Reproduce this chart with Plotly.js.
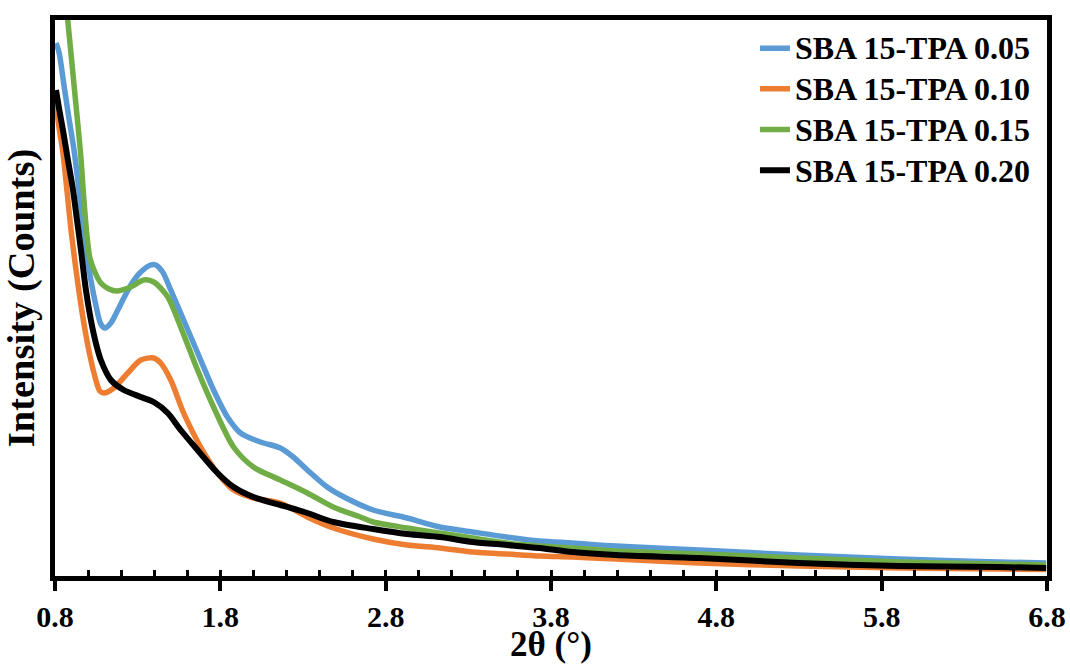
<!DOCTYPE html>
<html>
<head>
<meta charset="utf-8">
<script src="https://cdn.plot.ly/plotly-3.0.1.min.js"></script>
<style>html,body{margin:0;padding:0;background:#fff}#chart{width:1070px;height:664px}</style>
</head>
<body>
<div id="chart"></div>
<script>
// ---- Data (2θ in degrees, intensity in arbitrary counts) ----
const seriesNames = ["SBA 15-TPA 0.05", "SBA 15-TPA 0.10", "SBA 15-TPA 0.15", "SBA 15-TPA 0.20"];
const seriesColors = ["#5B9BD5", "#ED7D31", "#70AD47", "#000000"];

const theta005 = [0.806,0.824,0.854,0.884,0.915,0.945,0.969,0.993,1.017,1.047,1.077,1.102,1.138,1.180,1.216,1.270,1.319,1.379,1.409,1.451,1.500,1.578,1.681,1.759,1.843,1.922,2.042,2.163,2.241,2.326,2.446,2.525,2.724,2.929,3.128,3.327,3.532,3.731,3.930,4.193,4.696,5.299,5.903,6.506,6.795];
const counts005 = [5350,5260,4930,4600,4280,3880,3530,3230,2980,2730,2540,2500,2550,2680,2800,2960,3060,3130,3130,3060,2880,2580,2180,1880,1610,1450,1360,1300,1210,1080,910,830,680,600,510,460,410,370,350,320,280,230,190,160,150];

const theta010 = [0.800,0.824,0.848,0.872,0.897,0.927,0.957,0.987,1.017,1.047,1.071,1.096,1.156,1.240,1.319,1.397,1.439,1.500,1.578,1.681,1.783,1.880,2.000,2.163,2.326,2.483,2.724,2.929,3.128,3.327,3.532,3.731,3.930,4.193,4.696,5.299,5.903,6.506,6.795];
const counts010 = [4800,4510,4250,3880,3480,3080,2730,2430,2180,1980,1870,1850,1900,2050,2180,2200,2150,1980,1650,1310,1050,880,800,750,610,500,390,330,300,260,240,220,210,190,150,120,100,90,85];

const theta015 = [0.800,0.836,0.877,0.915,0.954,0.975,0.993,1.011,1.041,1.077,1.126,1.174,1.258,1.337,1.397,1.482,1.560,1.662,1.759,1.880,2.000,2.163,2.326,2.483,2.646,2.724,2.929,3.128,3.327,3.532,3.731,3.930,4.193,4.696,5.299,5.903,6.506,6.795];
const counts015 = [6880,6230,5580,4930,4260,3780,3430,3200,3060,2950,2890,2870,2910,2980,2960,2810,2510,2080,1710,1310,1110,980,850,710,610,560,500,450,400,350,320,300,270,240,200,160,140,130];

const theta020 = [0.806,0.824,0.848,0.878,0.909,0.933,0.957,0.987,1.017,1.047,1.077,1.138,1.216,1.319,1.397,1.482,1.560,1.662,1.783,1.880,2.000,2.163,2.326,2.483,2.724,2.929,3.128,3.327,3.532,3.731,3.930,4.193,4.696,5.299,5.903,6.506,6.795];
const counts020 = [4880,4700,4480,4180,3880,3580,3280,2880,2580,2350,2180,1980,1880,1810,1760,1650,1480,1280,1050,910,810,730,650,560,490,440,410,360,330,300,260,230,200,150,120,110,100];

const xTickVals = [0.8, 1.8, 2.8, 3.8, 4.8, 5.8, 6.8];
const xTickText = ["0.8", "1.8", "2.8", "3.8", "4.8", "5.8", "6.8"];
const xRange = [0.8, 6.8];
const yRange = [20, 5580];

const xs = [theta005, theta010, theta015, theta020];
const ys = [counts005, counts010, counts015, counts020];

const FONT = '"Liberation Serif", "Times New Roman", Times, serif';

const traces = seriesNames.map((name, i) => ({
  type: 'scatter',
  mode: 'lines',
  name: '<span style="font-size:32px">' + name + '</span>',
  x: xs[i],
  y: ys[i],
  line: {color: seriesColors[i], width: i === 3 ? 6 : 5.5, shape: 'spline', smoothing: 0.8},
  hoverinfo: 'skip'
}));
// empty trace that only carries the inner tick axis
traces.push({type: 'scatter', mode: 'lines', x: [], y: [], xaxis: 'x2', yaxis: 'y', showlegend: false, hoverinfo: 'skip'});

const layout = {
  width: 1070,
  height: 664,
  margin: {l: 55, r: 23, t: 20, b: 88, pad: 0},
  paper_bgcolor: '#ffffff',
  plot_bgcolor: '#ffffff',
  showlegend: true,
  legend: {
    x: 0.7056, y: 0.995, xanchor: 'left', yanchor: 'top',
    bgcolor: 'rgba(0,0,0,0)', borderwidth: 0,
    font: {family: FONT, size: 29, color: '#000', weight: 'bold'},
    itemwidth: 30, tracegroupgap: 0
  },
  xaxis: {
    range: xRange,
    tickmode: 'array', tickvals: xTickVals, ticktext: xTickText,
    ticks: 'outside', ticklen: 10, tickwidth: 4, tickcolor: '#000',
    showline: true, linewidth: 5, linecolor: '#000', mirror: true,
    showgrid: false, zeroline: false,
    tickfont: {family: FONT, size: 30, color: '#000', weight: 'bold'},
    title: {text: '2θ (°)', font: {family: FONT, size: 35, color: '#000', weight: 'bold'}, standoff: 3}
  },
  xaxis2: {
    overlaying: 'x', matches: 'x', anchor: 'y', side: 'bottom',
    range: xRange,
    tickmode: 'linear', tick0: 0.8, dtick: 0.2,
    ticks: 'inside', ticklen: 6, tickwidth: 3, tickcolor: '#000',
    showticklabels: false, showline: false, showgrid: false, zeroline: false
  },
  yaxis: {
    range: yRange,
    showticklabels: false, ticks: '',
    showline: true, linewidth: 5, linecolor: '#000', mirror: true,
    showgrid: false, zeroline: false,
    title: {text: 'Intensity (Counts)', font: {family: FONT, size: 38.5, color: '#000', weight: 'bold'}, standoff: 6}
  }
};

Plotly.newPlot('chart', traces, layout, {staticPlot: true, displayModeBar: false});
</script>
</body>
</html>
